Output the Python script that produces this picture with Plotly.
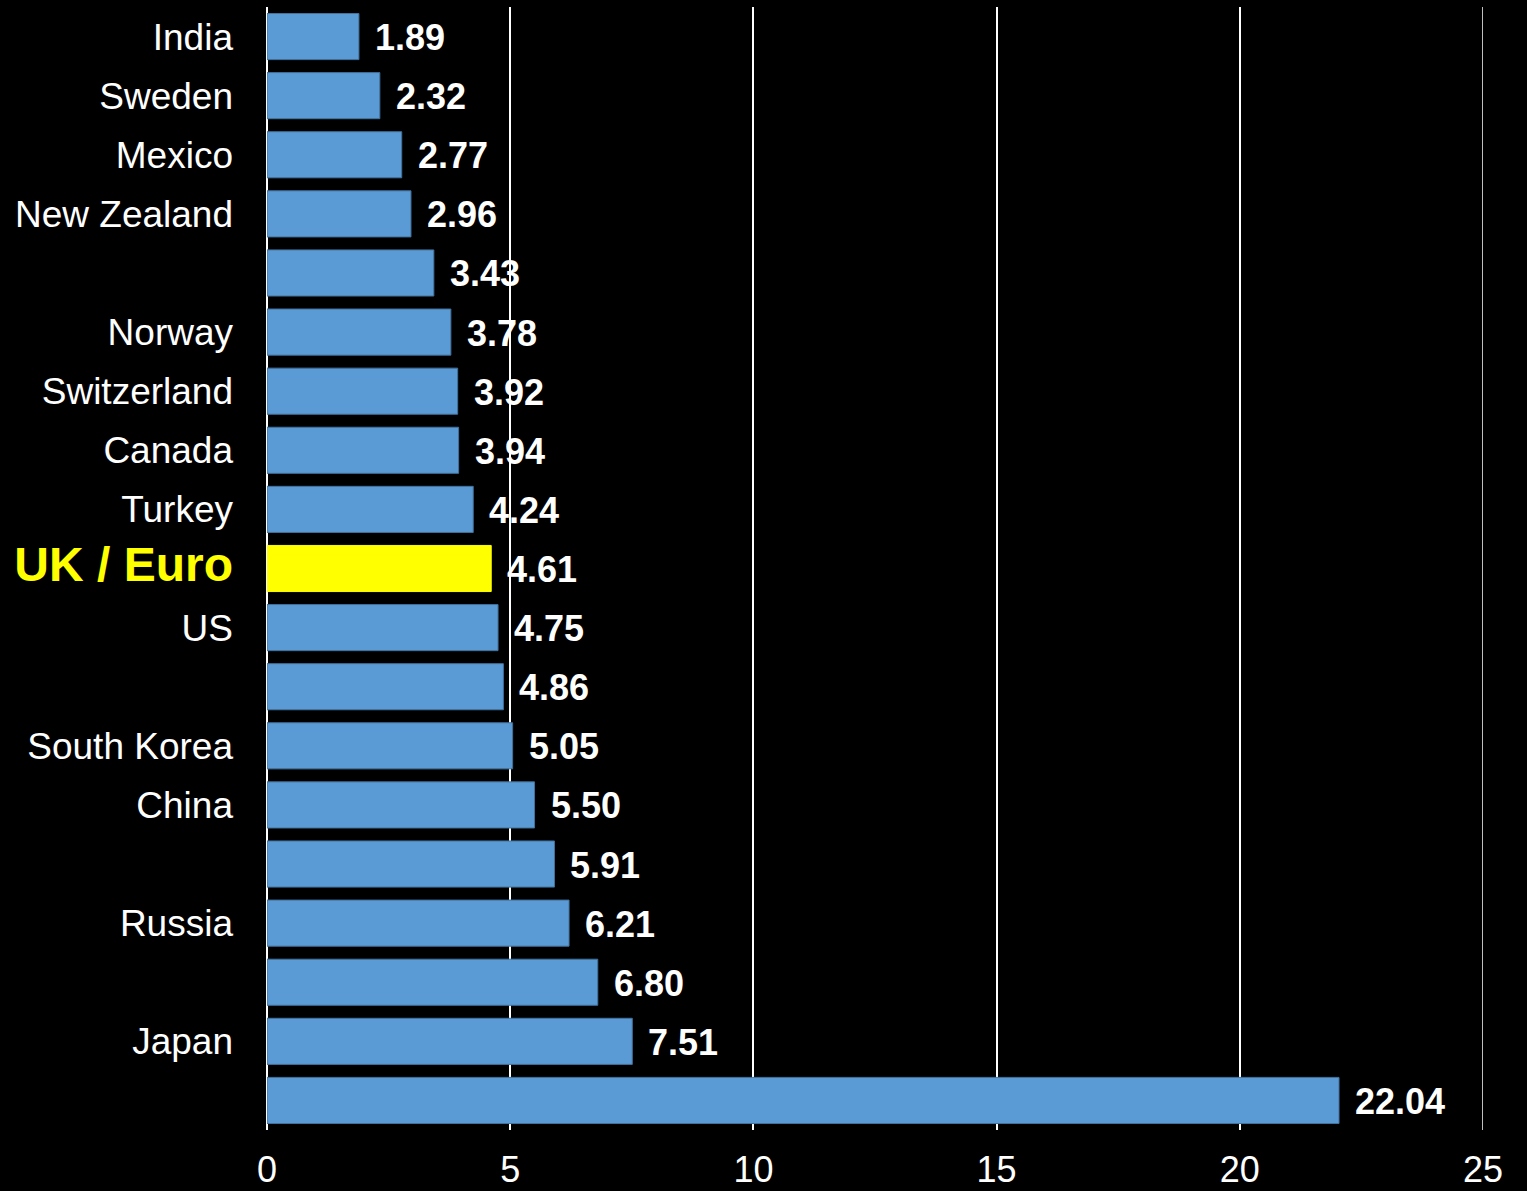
import plotly.graph_objects as go

countries = ["India", "Sweden", "Mexico", "New Zealand", "", "Norway", "Switzerland",
             "Canada", "Turkey", "UK / Euro", "US", "", "South Korea", "China", "",
             "Russia", "", "Japan", ""]
values = [1.89, 2.32, 2.77, 2.96, 3.43, 3.78, 3.92, 3.94, 4.24, 4.61, 4.75, 4.86,
          5.05, 5.50, 5.91, 6.21, 6.80, 7.51, 22.04]
highlight = "UK / Euro"
x_ticks = [0, 5, 10, 15, 20, 25]

positions = list(range(len(countries)))
colors = ["#FFFF00" if c == highlight else "#5B9BD5" for c in countries]
line_colors = ["#FFFF00" if c == highlight else "#41719C" for c in countries]
ticktext = [
    "<span style='color:#FFFF00;font-size:48px'><b>%s</b></span>" % c if c == highlight else c
    for c in countries
]

fig = go.Figure()
fig.add_trace(go.Bar(
    x=values, y=positions, orientation="h",
    marker=dict(color=colors, line=dict(color=line_colors, width=1)),
    width=0.78, hoverinfo="skip",
))

for p, v in zip(positions, values):
    fig.add_annotation(x=v, y=p, text="<b>%.2f</b>" % v, showarrow=False,
                       xanchor="left", yanchor="middle", xshift=14, yshift=-1,
                       font=dict(family="Liberation Sans, Arial", size=36, color="white"))

# vertical gridline at the right end of the range
fig.add_vline(x=x_ticks[-1], line=dict(color="white", width=1.5), layer="below")

fig.update_layout(
    width=1527, height=1191,
    paper_bgcolor="black", plot_bgcolor="black",
    margin=dict(l=267, r=44, t=7, b=61),
    showlegend=False,
    font=dict(family="Liberation Sans, Arial", size=37, color="white"),
    bargap=0.22,
)
fig.update_xaxes(
    range=[0, 25], tickvals=x_ticks, ticktext=[str(t) for t in x_ticks],
    showgrid=True, gridcolor="white", gridwidth=1.5,
    zeroline=True, zerolinecolor="white", zerolinewidth=1.5,
    showline=False, ticks="", ticklabelstandoff=15, automargin=False,
    tickfont=dict(size=36, color="white"),
)
fig.update_yaxes(
    range=[len(countries) - 0.5, -0.5], tickvals=positions, ticktext=ticktext,
    showgrid=False, zeroline=False, showline=False, ticks="", automargin=False,
    ticklabelstandoff=33, tickfont=dict(size=37, color="white"),
)

fig.write_html("out.html", config={"displayModeBar": False},
               post_script="document.body.style.margin='0';document.body.style.background='black';")
